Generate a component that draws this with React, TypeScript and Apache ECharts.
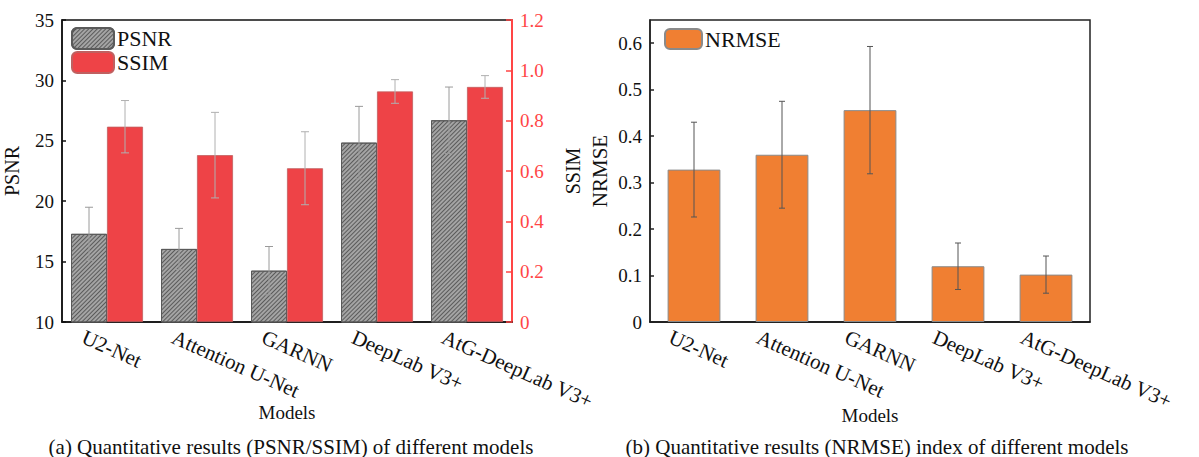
import React, { useEffect, useRef } from "react";
import * as echarts from "echarts";

const models = ["U2-Net", "Attention U-Net", "GARNN", "DeepLab V3+", "AtG-DeepLab V3+"];
const psnr = [17.3, 16.05, 14.25, 24.85, 26.7];
const psnrErr = [2.2, 1.7, 2.0, 3.0, 2.75];
const ssim = [0.776, 0.663, 0.611, 0.916, 0.934];
const ssimErr = [0.104, 0.17, 0.145, 0.047, 0.045];
const nrmse = [0.328, 0.36, 0.456, 0.12, 0.102];
const nrmseErr = [0.102, 0.115, 0.137, 0.05, 0.04];
const psnrTicks = { min: 10, max: 35, interval: 5 };
const ssimTicks = { min: 0, max: 1.2, interval: 0.2 };
const nrmseTicks = { min: 0, max: 0.65, interval: 0.1 };

const FONT = "Liberation Serif";
const RED = "#ee4347";
const AXRED = "#ff4545";
const ORANGE = "#f07f32";

function errData(vals: number[], errs: number[]) {
  return vals.map((v, i) => [i, v - errs[i], v + errs[i]]);
}

function errRender(shiftFrac: number, cap: number, color: string) {
  return (params: any, api: any) => {
    const x = api.value(0);
    const lo = api.coord([x, api.value(1)]);
    const hi = api.coord([x, api.value(2)]);
    const w = api.size([1, 0])[0];
    const cx = hi[0] + shiftFrac * w;
    const st = { stroke: color, lineWidth: 1 };
    return {
      type: "group",
      children: [
        { type: "line", shape: { x1: cx, y1: hi[1], x2: cx, y2: lo[1] }, style: st },
        { type: "line", shape: { x1: cx - cap, y1: hi[1], x2: cx + cap, y2: hi[1] }, style: st },
        { type: "line", shape: { x1: cx - cap, y1: lo[1], x2: cx + cap, y2: lo[1] }, style: st },
      ],
    };
  };
}

export default function App() {
  const ref = useRef<HTMLDivElement>(null);
  useEffect(() => {
    if (!ref.current) return;
    const chart = echarts.init(ref.current, undefined, { renderer: "svg" });
    const axisLabelBase = { fontFamily: FONT, fontSize: 19, color: "#111" };
    const catLabel = { fontFamily: FONT, fontSize: 21, color: "#111", rotate: -24, margin: 14, interval: 0 };
    const hatch = {
      symbol: "rect",
      symbolSize: 1,
      color: "rgba(60,60,60,0.7)",
      dashArrayX: [1, 0],
      dashArrayY: [1, 2],
      rotation: -Math.PI / 4,
    };
    const nameStyle = (size: number) => ({ fontFamily: FONT, fontSize: size, color: "#111" });
    const option: any = {
      animation: false,
      backgroundColor: "#fff",
      textStyle: { fontFamily: FONT },
      title: [
        {
          text: "(a) Quantitative results (PSNR/SSIM) of different models",
          left: 286,
          top: 431,
          textAlign: "center",
          textStyle: { fontFamily: FONT, fontSize: 21, fontWeight: "normal", color: "#111" },
        },
        {
          text: "(b) Quantitative results (NRMSE) index of different models",
          left: 872,
          top: 431,
          textAlign: "center",
          textStyle: { fontFamily: FONT, fontSize: 21, fontWeight: "normal", color: "#111" },
        },
      ],
      legend: [
        {
          data: ["PSNR", "SSIM"],
          left: 71,
          top: 27,
          orient: "vertical",
          itemWidth: 42,
          itemHeight: 21,
          itemGap: 1,
          textStyle: { fontFamily: FONT, fontSize: 22, color: "#111", padding: [0, 0, 0, -2] },
          padding: 0,
        },
        {
          data: ["NRMSE"],
          left: 664,
          top: 28,
          itemWidth: 37,
          itemHeight: 20,
          textStyle: { fontFamily: FONT, fontSize: 22, color: "#111", padding: [0, 0, 0, -2] },
          padding: 0,
        },
      ],
      grid: [
        { left: 62, right: 687, top: 20, bottom: 135, show: true, borderColor: "#111", borderWidth: 1.5 },
        { left: 650, right: 109, top: 20, bottom: 135, show: true, borderColor: "#222", borderWidth: 1.5 },
        { left: 38, right: 711, top: 20, bottom: 135 },
        { left: 626, right: 133, top: 20, bottom: 135 },
      ],
      xAxis: [
        {
          type: "category",
          gridIndex: 0,
          data: models,
          axisLine: { lineStyle: { color: "#111", width: 1.5 } },
          axisTick: { inside: true, alignWithLabel: true, length: 5, lineStyle: { color: "#111", width: 2 } },
          axisLabel: { show: false },
          name: "Models",
          nameLocation: "middle",
          nameGap: 81,
          nameTextStyle: nameStyle(19),
        },
        {
          type: "category",
          gridIndex: 1,
          data: models,
          axisLine: { lineStyle: { color: "#111", width: 1.5 } },
          axisTick: { inside: true, alignWithLabel: true, length: 5, lineStyle: { color: "#111", width: 2 } },
          axisLabel: { show: false },
          name: "Models",
          nameLocation: "middle",
          nameGap: 84,
          nameTextStyle: nameStyle(19),
        },
        {
          type: "category",
          gridIndex: 2,
          data: models,
          axisLine: { show: false },
          axisTick: { show: false },
          axisLabel: catLabel,
        },
        {
          type: "category",
          gridIndex: 3,
          data: models,
          axisLine: { show: false },
          axisTick: { show: false },
          axisLabel: catLabel,
        },
      ],
      yAxis: [
        {
          type: "value",
          gridIndex: 0,
          ...psnrTicks,
          name: "PSNR",
          nameLocation: "middle",
          nameGap: 40,
          nameTextStyle: nameStyle(20),
          axisLine: { show: true, lineStyle: { color: "#111", width: 1.5 } },
          axisTick: { show: true, inside: true, length: 4, lineStyle: { color: "#111", width: 1.5 } },
          axisLabel: { ...axisLabelBase, margin: 8 },
          splitLine: { show: false },
        },
        {
          type: "value",
          gridIndex: 0,
          position: "right",
          ...ssimTicks,
          name: "SSIM",
          nameLocation: "middle",
          nameGap: 51,
          nameTextStyle: nameStyle(20),
          axisLine: { show: true, lineStyle: { color: AXRED, width: 2 } },
          axisTick: { show: true, inside: true, length: 6, lineStyle: { color: AXRED, width: 1.5 } },
          axisLabel: {
            ...axisLabelBase,
            color: AXRED,
            margin: 8,
            formatter: (v: number) => (v === 0 ? "0" : v.toFixed(1)),
          },
          splitLine: { show: false },
        },
        {
          type: "value",
          gridIndex: 1,
          ...nrmseTicks,
          name: "NRMSE",
          nameLocation: "middle",
          nameGap: 40,
          nameTextStyle: nameStyle(21),
          axisLine: { show: true, lineStyle: { color: "#222", width: 1.5 } },
          axisTick: { show: true, inside: true, length: 4, lineStyle: { color: "#222", width: 1.5 } },
          axisLabel: {
            ...axisLabelBase,
            margin: 8,
            showMaxLabel: false,
            formatter: (v: number) => (v === 0 ? "0" : v > 0.61 ? "" : v.toFixed(1)),
          },
          splitLine: { show: false },
        },
        { type: "value", gridIndex: 2, show: false },
        { type: "value", gridIndex: 3, show: false },
      ],
      series: [
        {
          name: "PSNR",
          type: "bar",
          xAxisIndex: 0,
          yAxisIndex: 0,
          data: psnr,
          barGap: "0%",
          barCategoryGap: "20%",
          itemStyle: { color: "#a4a4a4", borderColor: "#5a5a5a", borderWidth: 1, decal: hatch },
        },
        {
          name: "SSIM",
          type: "bar",
          xAxisIndex: 0,
          yAxisIndex: 1,
          data: ssim,
          barGap: "0%",
          barCategoryGap: "20%",
          itemStyle: { color: RED, borderColor: "#c06060", borderWidth: 0.8 },
        },
        {
          type: "custom",
          xAxisIndex: 0,
          yAxisIndex: 0,
          data: errData(psnr, psnrErr),
          renderItem: errRender(-0.2, 4, "#9a9a9a"),
          z: 5,
          silent: true,
        },
        {
          type: "custom",
          xAxisIndex: 0,
          yAxisIndex: 1,
          data: errData(ssim, ssimErr),
          renderItem: errRender(0.2, 4, "#b0b0b0"),
          z: 5,
          silent: true,
        },
        {
          name: "NRMSE",
          type: "bar",
          xAxisIndex: 1,
          yAxisIndex: 2,
          data: nrmse,
          barCategoryGap: "40%",
          itemStyle: { color: ORANGE, borderColor: "#8a8a8a", borderWidth: 1 },
        },
        {
          type: "custom",
          xAxisIndex: 1,
          yAxisIndex: 2,
          data: errData(nrmse, nrmseErr),
          renderItem: errRender(0, 3, "#555"),
          z: 5,
          silent: true,
        },
      ],
    };
    chart.setOption(option);
    return () => chart.dispose();
  }, []);
  return (
    <div
      ref={ref}
      style={{ position: "fixed", left: 0, top: 0, width: 1199, height: 457, background: "#fff" }}
    />
  );
}
